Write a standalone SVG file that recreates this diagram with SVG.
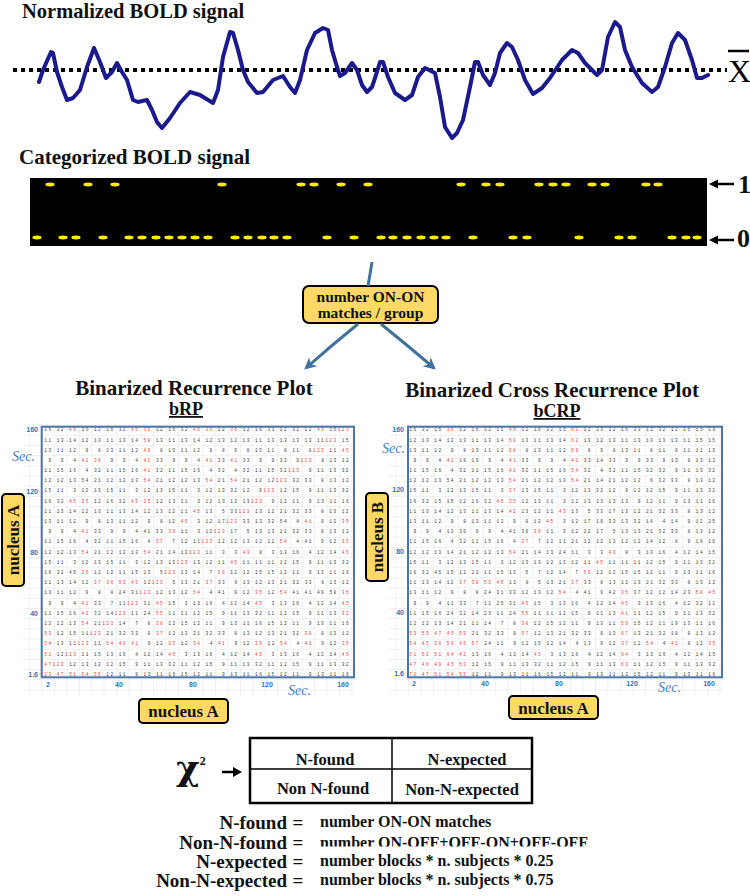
<svg xmlns="http://www.w3.org/2000/svg" width="750" height="896" viewBox="0 0 750 896">
<style>
.t{font-family:"Liberation Serif","Times New Roman",serif;font-weight:bold;fill:#111}
.ttl{font-size:21px}
.sub{font-size:18px;text-decoration:underline}
.lab{font-size:17px}
.ax{font-family:"Liberation Sans",Arial,sans-serif;font-weight:bold;font-size:7px;fill:#2e75b6}
.sec{font-family:"Liberation Serif","Times New Roman",serif;font-style:italic;font-size:14px;fill:#3f7cc6}
.g{font-family:"Liberation Mono","Courier New",monospace;font-size:4.5px;fill:#404040;white-space:pre}
.ga{letter-spacing:1.43px}
.gb{letter-spacing:1.45px}
.r{fill:#f23a3a}
.box{fill:#ffd966;stroke:#000;stroke-width:2}
.conn{fill:none;stroke:#41719c;stroke-width:3}
.brd{fill:none;stroke:#4a76a8;stroke-width:2}
.cell{font-size:16.5px}
.def{font-size:19px}
.defr{font-size:16px}
</style>
<defs>
<marker id="ah" viewBox="0 0 10 10" refX="8" refY="5" markerWidth="12" markerHeight="12" markerUnits="userSpaceOnUse" orient="auto"><path d="M0,0 L10,5 L0,10 L3,5 z" fill="#41719c"/></marker>
<ellipse id="d" rx="4.6" ry="1.9" fill="#ffee00"/>
<pattern id="pa" x="41.7" y="424.6" width="12.39" height="10.19" patternUnits="userSpaceOnUse"><path d="M0 0.3H12.39M0.3 0V10.19" stroke="#e2e2e2" stroke-width="0.6" fill="none"/></pattern>
<pattern id="pb" x="408" y="424.6" width="12.46" height="10.19" patternUnits="userSpaceOnUse"><path d="M0 0.3H12.46M0.3 0V10.19" stroke="#e2e2e2" stroke-width="0.6" fill="none"/></pattern>
<clipPath id="cl2"><rect x="300" y="828" width="300" height="18.5"/></clipPath>
</defs>
<rect width="750" height="896" fill="#fff"/>

<g id="normalized-signal">
<text class="t" x="22" y="18" font-size="20.5">Normalized BOLD signal</text>
<line x1="13" y1="70" x2="727" y2="70" stroke="#000" stroke-width="4" stroke-dasharray="4 4"/>
<polyline fill="none" stroke="#1a1a8c" stroke-width="4" stroke-linejoin="round" stroke-linecap="round" points="39,82 43,70 51,52 53,53 57,72 62,87 67,100 73,98 80,90 87,67 94,48 100,62 106,78 112,72 117,63 122,72 127,80 133,100 138,102 147,100 152,110 157,122 162,128 170,118 180,103 190,92 200,95 213,103 218,90 223,57 230,32 233,33 238,50 243,70 248,82 257,93 263,92 273,80 283,76 290,87 295,93 300,80 307,50 315,33 323,28 328,30 332,50 337,67 340,76 345,73 352,63 357,70 362,85 367,92 372,87 375,78 380,62 383,62 388,77 395,93 405,100 412,95 418,77 425,68 435,73 440,97 445,127 452,138 457,133 463,120 470,87 475,62 478,62 483,75 490,85 495,73 500,53 507,43 512,47 518,60 525,80 533,94 542,88 550,78 562,60 572,50 578,53 585,63 597,75 602,70 608,37 615,22 620,27 625,50 632,67 642,83 652,92 658,87 665,67 672,43 678,33 685,40 692,60 697,78 702,78 708,75"/>
<line x1="728" y1="51" x2="749" y2="51" stroke="#000" stroke-width="2.5"/>
<text x="728" y="82" font-family="Liberation Serif, Times New Roman, serif" font-size="32" fill="#000">X</text>
</g>

<g id="categorized-signal">
<text class="t ttl" x="19" y="164">Categorized BOLD signal</text>
<rect x="30" y="178" width="677" height="68" fill="#000"/>
<g transform="translate(0,184.5)">
<use href="#d" x="50"/><use href="#d" x="88"/><use href="#d" x="115"/><use href="#d" x="222"/><use href="#d" x="301"/><use href="#d" x="314"/><use href="#d" x="341"/><use href="#d" x="368"/><use href="#d" x="461"/><use href="#d" x="486"/><use href="#d" x="500"/><use href="#d" x="539"/><use href="#d" x="553"/><use href="#d" x="566"/><use href="#d" x="592"/><use href="#d" x="605"/><use href="#d" x="646"/><use href="#d" x="658"/>
</g>
<g transform="translate(0,237.5)">
<use href="#d" x="37"/><use href="#d" x="63"/><use href="#d" x="76"/><use href="#d" x="103"/><use href="#d" x="129"/><use href="#d" x="142"/><use href="#d" x="156"/><use href="#d" x="169"/><use href="#d" x="182"/><use href="#d" x="195"/><use href="#d" x="208"/><use href="#d" x="235"/><use href="#d" x="248"/><use href="#d" x="262"/><use href="#d" x="274"/><use href="#d" x="287"/><use href="#d" x="327"/><use href="#d" x="354"/><use href="#d" x="381"/><use href="#d" x="393"/><use href="#d" x="407"/><use href="#d" x="421"/><use href="#d" x="434"/><use href="#d" x="446"/><use href="#d" x="473"/><use href="#d" x="513"/><use href="#d" x="527"/><use href="#d" x="579"/><use href="#d" x="619"/><use href="#d" x="632"/><use href="#d" x="672"/><use href="#d" x="686"/><use href="#d" x="697"/>
</g>
<line x1="714" y1="184" x2="734" y2="184" stroke="#000" stroke-width="2.5"/>
<polygon points="709,184 718,179.5 718,188.5" fill="#000"/>
<text class="t" x="738" y="193" font-size="26">1</text>
<line x1="714" y1="240" x2="734" y2="240" stroke="#000" stroke-width="2.5"/>
<polygon points="709,240 718,235.5 718,244.5" fill="#000"/>
<text class="t" x="737" y="247" font-size="26">0</text>
</g>

<g id="node-matches">
<rect class="box" x="303" y="286" width="135" height="37" rx="6"/>
<text class="t" x="370.5" y="302" font-size="15.5" text-anchor="middle">number ON-ON</text>
<text class="t" x="370.5" y="318" font-size="15.5" text-anchor="middle">matches / group</text>
</g>

<g id="connectors">
<path class="conn" d="M372,262 Q370,275 368,286"/>
<path class="conn" d="M358,324 Q332,345 306,368" marker-end="url(#ah)"/>
<path class="conn" d="M381,324 Q407,345 434,368" marker-end="url(#ah)"/>
</g>

<g id="bRP">
<text class="t ttl" x="194" y="395" text-anchor="middle">Binarized Recurrence Plot</text>
<text class="t sub" x="186" y="415" text-anchor="middle">bRP</text>
<rect x="23" y="424.6" width="333" height="272" fill="url(#pa)"/>
<text class="g ga" xml:space="preserve" x="40.2" y="431.3"> 16 32 <tspan class="r">45</tspan> 35 12 16 32 <tspan class="r">45</tspan> <tspan class="r">35</tspan> 12 16 32 <tspan class="r">45</tspan> <tspan class="r">35</tspan> 12 <tspan class="r">35</tspan> 12 16 33 12 32 12 <tspan class="r">45</tspan> 15<tspan class="r">123</tspan></text>
<text class="g ga" xml:space="preserve" x="40.2" y="441.5"> 11 13 14 12 13 11 13 14 <tspan class="r">58</tspan> 13 11 13 14 12 13 12 13 11 13 13 13 13 11<tspan class="r">123</tspan> 15</text>
<text class="g ga" xml:space="preserve" x="40.2" y="451.7"> 13 11 12  9  8 13 11 12 <tspan class="r">49</tspan>  8 13 11 12  9  8  9  8 13 11  8 11  8<tspan class="r">123</tspan> 11 <tspan class="r">45</tspan></text>
<text class="g ga" xml:space="preserve" x="40.2" y="461.9">  9  9  4 <tspan class="r">41</tspan> <tspan class="r">38</tspan>  9  9  4 <tspan class="r">41</tspan> 33  9  9  4 <tspan class="r">41</tspan> 33 <tspan class="r">41</tspan> 33  9  9 33  9<tspan class="r">123</tspan>  8 13 12</text>
<text class="g ga" xml:space="preserve" x="40.2" y="472.1"> 11 15 16  4 32 11 15 16 <tspan class="r">41</tspan> 32 11 15 16  4 32  4 32 11 15 32<tspan class="r">123</tspan>  9 11 13 32</text>
<text class="g ga" xml:space="preserve" x="40.2" y="482.3"> 12 12 13 54 21 12 12 13 <tspan class="r">54</tspan> 21 12 12 13 <tspan class="r">54</tspan> 21 <tspan class="r">54</tspan> 21 12 12<tspan class="r">123</tspan> 32 33  8 13 12</text>
<text class="g ga" xml:space="preserve" x="40.2" y="492.4"> 15 11  3 12 13 15 11  3 12 13 15 11  3 12 13 32 12  9<tspan class="r">123</tspan> 12 15  9 11 13 32</text>
<text class="g ga" xml:space="preserve" x="40.2" y="502.6"> 16 32 <tspan class="r">45</tspan> <tspan class="r">35</tspan> 12 16 32 <tspan class="r">45</tspan> <tspan class="r">35</tspan> 12 13 11  3 12 13 13 13<tspan class="r">123</tspan>  9 12 11  9 13 11 16</text>
<text class="g ga" xml:space="preserve" x="40.2" y="512.8"> 11 13 14 12 13 11 13 14 12 13 12 11 <tspan class="r">45</tspan> 13  5 33<tspan class="r">123</tspan> 13 12 21 32 33  8 13 12</text>
<text class="g ga" xml:space="preserve" x="40.2" y="523.0"> 13 11 12  9  8 13 11 12  9  8 12 <tspan class="r">45</tspan>  3 12 17<tspan class="r">123</tspan> 33 13 32 54  4 <tspan class="r">41</tspan>  9 12 <tspan class="r">35</tspan></text>
<text class="g ga" xml:space="preserve" x="40.2" y="533.2">  9  9  4 <tspan class="r">41</tspan> 33  9  9  4 41 33 <tspan class="r">39</tspan> 11  3 12<tspan class="r">123</tspan> 17  5 13 13 21 32 33  8 13 12</text>
<text class="g ga" xml:space="preserve" x="40.2" y="543.4"> 11 15 16  4 32 11 15 16  4 <tspan class="r">37</tspan>  7 12 11<tspan class="r">123</tspan> 12 12 13 12 12 <tspan class="r">54</tspan>  4 41  9 12 <tspan class="r">35</tspan></text>
<text class="g ga" xml:space="preserve" x="40.2" y="553.6"> 12 12 13 <tspan class="r">54</tspan> 21 12 12 13 <tspan class="r">54</tspan> 21 14 13<tspan class="r">123</tspan> 11  3  3 <tspan class="r">43</tspan>  8  3 13 16  4 12 14 <tspan class="r">45</tspan></text>
<text class="g ga" xml:space="preserve" x="40.2" y="563.8"> 15 11  3 12 13 15 11  3 12 13 13<tspan class="r">123</tspan> 13 12 11 <tspan class="r">45</tspan> 11 11 11 12 15  9 11 13 32</text>
<text class="g ga" xml:space="preserve" x="40.2" y="574.0"> 16 32 45 <tspan class="r">35</tspan> 12 12 11 15 13  5<tspan class="r">123</tspan> 13 14  7 <tspan class="r">39</tspan> 12 12 15 15 12 11  9 13 11 16</text>
<text class="g ga" xml:space="preserve" x="40.2" y="584.2"> 11 13 14 12 <tspan class="r">37</tspan> <tspan class="r">38</tspan> <tspan class="r">53</tspan> <tspan class="r">45</tspan> 12<tspan class="r">123</tspan>  5 13 21 <tspan class="r">37</tspan> 33  8 13 12 13 21 32 33  8 13 12</text>
<text class="g ga" xml:space="preserve" x="40.2" y="594.3"> 13 11 12  9  8  8 24 31<tspan class="r">123</tspan> 12 13 12 <tspan class="r">54</tspan>  4 41  9 12 <tspan class="r">35</tspan> 12 <tspan class="r">54</tspan> 41 41 49 58 <tspan class="r">35</tspan></text>
<text class="g ga" xml:space="preserve" x="40.2" y="604.5">  9  9  4 <tspan class="r">41</tspan> 33  7 11<tspan class="r">123</tspan> 31 <tspan class="r">45</tspan> 15  3 13 16  4 12 14 <tspan class="r">45</tspan>  3 13 16  4 12 14 <tspan class="r">45</tspan></text>
<text class="g ga" xml:space="preserve" x="40.2" y="614.7"> 11 15 16 <tspan class="r">40</tspan> 32 14<tspan class="r">123</tspan> 11 24 <tspan class="r">55</tspan> 11 11 12 15  9 11 13 32 11 12 15  9 11 13 <tspan class="r">32</tspan></text>
<text class="g ga" xml:space="preserve" x="40.2" y="624.9"> 12 12 13 <tspan class="r">54</tspan> 21<tspan class="r">123</tspan> 14  7  8 <tspan class="r">38</tspan> 12 15 12 11  9 13 11 16 15 12 11  9 13 11 16</text>
<text class="g ga" xml:space="preserve" x="40.2" y="635.1"> <tspan class="r">53</tspan> 12 15 11<tspan class="r">123</tspan> 21 32 33  8 <tspan class="r">37</tspan> 12 13 21 32 33  8 13 12 13 21 32 <tspan class="r">38</tspan>  8 13 12</text>
<text class="g ga" xml:space="preserve" x="40.2" y="645.3"> <tspan class="r">54</tspan> 13 11<tspan class="r">123</tspan> 11 <tspan class="r">54</tspan> <tspan class="r">40</tspan> <tspan class="r">41</tspan>  9 12 <tspan class="r">35</tspan> 12 <tspan class="r">54</tspan>  4 <tspan class="r">41</tspan>  9 12 <tspan class="r">35</tspan> 12 <tspan class="r">54</tspan>  4 <tspan class="r">41</tspan>  9 12 <tspan class="r">35</tspan></text>
<text class="g ga" xml:space="preserve" x="40.2" y="655.5"> <tspan class="r">51</tspan> 12<tspan class="r">123</tspan> 11 15 13 16  4 12 14 <tspan class="r">45</tspan>  3 13 16  4 12 14 <tspan class="r">45</tspan>  3 13 16  4 12 14 <tspan class="r">45</tspan></text>
<text class="g ga" xml:space="preserve" x="40.2" y="665.7"> <tspan class="r">47</tspan><tspan class="r">123</tspan> 12 13 12 12 15  9 11 13 32 11 12 15  9 11 13 32 11 12 15  9 11 13 32</text>
<text class="g ga" xml:space="preserve" x="40.2" y="675.9"><tspan class="r">123</tspan> <tspan class="r">47</tspan> <tspan class="r">51</tspan> <tspan class="r">54</tspan> <tspan class="r">55</tspan> 12 11  9 13 11 16 15 12 11  9 13 11 16 15 12 11  9 13 11 16</text>
<rect class="brd" x="41.7" y="426.7" width="312.3" height="250.6"/>
<text class="ax" x="38" y="432" text-anchor="end">160</text>
<text class="ax" x="38" y="493.5" text-anchor="end">120</text>
<text class="ax" x="38" y="555" text-anchor="end">80</text>
<text class="ax" x="38" y="615.5" text-anchor="end">40</text>
<text class="ax" x="38" y="677" text-anchor="end">1.6</text>
<text class="sec" x="12" y="461">Sec.</text>
<text class="ax" x="48" y="686.5" text-anchor="middle">2</text>
<text class="ax" x="119" y="686.5" text-anchor="middle">40</text>
<text class="ax" x="193" y="686.5" text-anchor="middle">80</text>
<text class="ax" x="267" y="686.5" text-anchor="middle">120</text>
<text class="ax" x="343" y="686.5" text-anchor="middle">160</text>
<text class="sec" x="288" y="695">Sec.</text>
</g>

<g id="bRP-nucleus-A-vertical">
<rect class="box" x="2" y="494" width="22" height="92" rx="4"/>
<text class="t lab" x="13" y="546" text-anchor="middle" transform="rotate(-90 13 540)">nucleus A</text>
</g>
<g id="bRP-nucleus-A">
<rect class="box" x="139" y="699" width="89" height="24" rx="4"/>
<text class="t lab" x="183.5" y="717" text-anchor="middle">nucleus A</text>
</g>

<g id="bCRP">
<text class="t ttl" x="552" y="397" text-anchor="middle">Binarized Cross Recurrence Plot</text>
<text class="t sub" x="557" y="417" text-anchor="middle">bCRP</text>
<rect x="388" y="424.6" width="336" height="270" fill="url(#pb)"/>
<text class="g gb" xml:space="preserve" x="405.2" y="431.3"> 16 32 15 <tspan class="r">35</tspan> 12 16 32 11 <tspan class="r">45</tspan> 12 16 32 15 <tspan class="r">61</tspan> 12 23 12 16 33 12 32 12 15 15 19</text>
<text class="g gb" xml:space="preserve" x="405.2" y="441.5"> 12 13 14 12 13 11 13 14 <tspan class="r">59</tspan> 13 11 13 14 <tspan class="r">62</tspan> 13 12 13 11 13 13 13 13 11 15 15</text>
<text class="g gb" xml:space="preserve" x="405.2" y="451.7"> 13 11 12  9  8 13 11 12 <tspan class="r">58</tspan>  8 13 11 12 <tspan class="r">59</tspan>  8  9  8 13 11  8 11  8 11 11 13</text>
<text class="g gb" xml:space="preserve" x="405.2" y="461.9">  9  9  4 <tspan class="r">41</tspan> 18 19  9  4 <tspan class="r">41</tspan> 33  9  9  4 <tspan class="r">41</tspan> 33 14 33  9  9 33  9 13  8 13 12</text>
<text class="g gb" xml:space="preserve" x="405.2" y="472.1"> 11 15 16  4 32 11 15 16 <tspan class="r">41</tspan> 32 11 15 16 <tspan class="r">54</tspan> 32  4 32 11 15 32 32  9 11 13 32</text>
<text class="g gb" xml:space="preserve" x="405.2" y="482.3"> 12 12 13 54 21 12 12 13 <tspan class="r">54</tspan> 21 12 12 13 <tspan class="r">54</tspan> 21 14 21 12 12  6 32 33  8 13 12</text>
<text class="g gb" xml:space="preserve" x="405.2" y="492.4"> 15 11  3 12 13 15 11  3 <tspan class="r">37</tspan> 13 15 11  3 12 13 32 12  9 12 12 15  9 11 13 32</text>
<text class="g gb" xml:space="preserve" x="405.2" y="502.6"> 16 32 15 15 12 16 32 <tspan class="r">45</tspan> <tspan class="r">35</tspan> 12 13 11  3 12 13 13 13 13  9 12 11  9 13 11 16</text>
<text class="g gb" xml:space="preserve" x="405.2" y="512.8"> 11 13 14 12 13 11 13 14 <tspan class="r">42</tspan> 13 12 11 <tspan class="r">43</tspan> 13  5 33 17 13 12 21 32 33  8 13 12</text>
<text class="g gb" xml:space="preserve" x="405.2" y="523.0"> 13 11 12  9  8 13 11 12  9  8 12 <tspan class="r">45</tspan>  3 12 17 18 33 13 32 14  4 14  9 12 25</text>
<text class="g gb" xml:space="preserve" x="405.2" y="533.2">  9  9  4 13 30  9  9  4 41 30 <tspan class="r">39</tspan> 11  3 12 22 17  5 13 13 21 32 33  8 13 12</text>
<text class="g gb" xml:space="preserve" x="405.2" y="543.4"> 11 15 16  4 32 11 15 16  4 <tspan class="r">37</tspan>  7 12 11 21 12 12 13 12 12 14 12  8  9 18 16</text>
<text class="g gb" xml:space="preserve" x="405.2" y="553.6"> 12 12 13 14 21 12 12 13 <tspan class="r">54</tspan> 21 14 13 24 11  3  3 <tspan class="r">43</tspan>  8  3 13 16  4 12 14 15</text>
<text class="g gb" xml:space="preserve" x="405.2" y="563.8"> 15 11  3 12 13 15 11  3 12 13 13 12 13 12 11 <tspan class="r">45</tspan> 11 11 11 12 15  9 11 13 32</text>
<text class="g gb" xml:space="preserve" x="405.2" y="574.0"> 16 32 45 15 12 12 11 15 13  5  7 12 14  7 <tspan class="r">59</tspan> 12 12 15 15 12 11  9 13 11 16</text>
<text class="g gb" xml:space="preserve" x="405.2" y="584.2"> 11 13 14 12 <tspan class="r">37</tspan> <tspan class="r">38</tspan> <tspan class="r">53</tspan> <tspan class="r">45</tspan> 12  8  5 13 21 <tspan class="r">37</tspan> 33  8 13 12 13 21 32 33  8 13 12</text>
<text class="g gb" xml:space="preserve" x="405.2" y="594.3"> 13 11 12  9  8  8 24 31 33 12 13 12 <tspan class="r">54</tspan>  4 41  9 42 <tspan class="r">35</tspan> 37 12 12 14 23 <tspan class="r">58</tspan> <tspan class="r">45</tspan></text>
<text class="g gb" xml:space="preserve" x="405.2" y="604.5">  9  9  4 11 33  7 11 25 31 <tspan class="r">45</tspan> 15  3 13 16  4 12 14 <tspan class="r">45</tspan>  3 13 16  4 12 32 11</text>
<text class="g gb" xml:space="preserve" x="405.2" y="614.7"> 11 15 16 24 32 14 23 11 24 <tspan class="r">55</tspan> 11 11 12 15  9 11 13 <tspan class="r">41</tspan> 11 12 15  9 11 13 32</text>
<text class="g gb" xml:space="preserve" x="405.2" y="624.9"> 12 12 13 14 21 11 14  7  8 <tspan class="r">38</tspan> 12 15 12 11  9 13 11 <tspan class="r">59</tspan> 15 12 11 19 13 11 16</text>
<text class="g gb" xml:space="preserve" x="405.2" y="635.1"> <tspan class="r">53</tspan> <tspan class="r">55</tspan> <tspan class="r">47</tspan> <tspan class="r">45</tspan> <tspan class="r">59</tspan> 21 32 33  8 <tspan class="r">57</tspan> 12 13 21 32 33  8 13 <tspan class="r">67</tspan> 13 21 32 18  8 13 12</text>
<text class="g gb" xml:space="preserve" x="405.2" y="645.3"> <tspan class="r">54</tspan> <tspan class="r">45</tspan> <tspan class="r">38</tspan> <tspan class="r">56</tspan> <tspan class="r">45</tspan> <tspan class="r">57</tspan> 24 11  9 12 15 12 14  4 13  9 12 <tspan class="r">37</tspan> 12 <tspan class="r">54</tspan>  4 <tspan class="r">41</tspan>  9 12 <tspan class="r">35</tspan></text>
<text class="g gb" xml:space="preserve" x="405.2" y="655.5"> <tspan class="r">51</tspan> <tspan class="r">52</tspan> <tspan class="r">51</tspan> <tspan class="r">64</tspan> <tspan class="r">42</tspan> 13 16  4 12 14 <tspan class="r">45</tspan>  3 13 16  4 12 14 <tspan class="r">64</tspan>  3 13 16  4 12 14 15</text>
<text class="g gb" xml:space="preserve" x="405.2" y="665.7"> <tspan class="r">47</tspan> <tspan class="r">46</tspan> <tspan class="r">49</tspan> <tspan class="r">45</tspan> <tspan class="r">53</tspan> 12 15  9 11 13 32 11 12 15  9 11 13 <tspan class="r">63</tspan> 11 12 15  9 11 13 32</text>
<text class="g gb" xml:space="preserve" x="405.2" y="675.9"> <tspan class="r">70</tspan> <tspan class="r">47</tspan> <tspan class="r">51</tspan> <tspan class="r">54</tspan> <tspan class="r">55</tspan> 12 11  9 13 11 16 15 12 11  9 13 11 12 15 12 11  9 13 11 16</text>
<rect class="brd" x="408" y="426.7" width="314" height="250.6"/>
<text class="ax" x="404" y="431.5" text-anchor="end">160</text>
<text class="ax" x="404" y="492" text-anchor="end">120</text>
<text class="ax" x="404" y="553.5" text-anchor="end">80</text>
<text class="ax" x="404" y="614.5" text-anchor="end">40</text>
<text class="ax" x="404" y="676" text-anchor="end">1.6</text>
<text class="sec" x="382" y="453">Sec.</text>
<text class="ax" x="414" y="685.5" text-anchor="middle">2</text>
<text class="ax" x="485" y="685.5" text-anchor="middle">40</text>
<text class="ax" x="559" y="685.5" text-anchor="middle">80</text>
<text class="ax" x="632" y="685.5" text-anchor="middle">120</text>
<text class="ax" x="709" y="685.5" text-anchor="middle">160</text>
<text class="sec" x="658" y="692">Sec.</text>
</g>

<g id="bCRP-nucleus-B-vertical">
<rect class="box" x="366" y="493" width="22" height="88" rx="4"/>
<text class="t lab" x="377" y="543" text-anchor="middle" transform="rotate(-90 377 537)">nucleus B</text>
</g>
<g id="bCRP-nucleus-A">
<rect class="box" x="509" y="696" width="89" height="23" rx="4"/>
<text class="t lab" x="553.5" y="714" text-anchor="middle">nucleus A</text>
</g>

<g id="chi-square">
<text x="176" y="780" font-family="DejaVu Serif, Liberation Serif, serif" font-weight="bold" font-size="36" fill="#111">χ<tspan font-family="Liberation Serif, Times New Roman, serif" font-size="12" dy="-15">2</tspan></text>
<line x1="222" y1="772" x2="236" y2="772" stroke="#000" stroke-width="2.5"/>
<polygon points="242,772 233,767 233,777" fill="#000"/>
</g>

<g id="contingency-table">
<rect x="250" y="738" width="282" height="65" fill="#fff" stroke="#000" stroke-width="2.5"/>
<line x1="250" y1="769" x2="532" y2="769" stroke="#000" stroke-width="1.5"/>
<line x1="392" y1="738" x2="392" y2="803" stroke="#000" stroke-width="1.5"/>
<text class="t cell" x="325" y="765" text-anchor="middle">N-found</text>
<text class="t cell" x="467" y="765" text-anchor="middle">N-expected</text>
<text class="t cell" x="323" y="794" text-anchor="middle">Non N-found</text>
<text class="t cell" x="462" y="795" text-anchor="middle">Non-N-expected</text>
</g>

<g id="definitions">
<text class="t def" x="287" y="829" text-anchor="end">N-found</text>
<text class="t def" x="298" y="829" text-anchor="middle">=</text>
<text class="t defr" x="320" y="827">number ON-ON matches</text>
<text class="t def" x="287" y="849" text-anchor="end">Non-N-found</text>
<text class="t def" x="298" y="849" text-anchor="middle">=</text>
<text class="t defr" x="320" y="848" clip-path="url(#cl2)">number ON-OFF+OFF-ON+OFF-OFF</text>
<text class="t def" x="287" y="868" text-anchor="end">N-expected</text>
<text class="t def" x="298" y="868" text-anchor="middle">=</text>
<text class="t defr" x="320" y="866">number blocks * n. subjects * 0.25</text>
<text class="t def" x="287" y="887" text-anchor="end">Non-N-expected</text>
<text class="t def" x="298" y="887" text-anchor="middle">=</text>
<text class="t defr" x="320" y="885">number blocks * n. subjects * 0.75</text>
</g>
</svg>
